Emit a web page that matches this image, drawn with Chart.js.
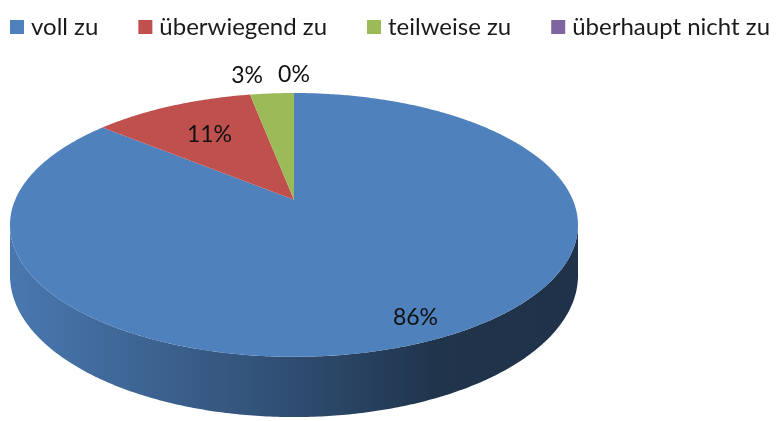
<!DOCTYPE html>
<html>
<head>
<meta charset="utf-8">
<script src="https://cdn.jsdelivr.net/npm/chart.js@4.4.1/dist/chart.umd.min.js"></script>
<style>
    html, body { margin: 0; padding: 0; background: #fff; }
</style>
</head>
<body>
<canvas id="answersChart" width="780" height="421"></canvas>
<script>
// Antworten, Anteil in Prozent
const categories = ['voll zu', 'überwiegend zu', 'teilweise zu', 'überhaupt nicht zu'];
const shares = [86, 11, 3, 0];
const sliceColors = ['#4F81BD', '#C0504D', '#9BBB59', '#8064A2'];

// look of the 3d pie
const perspective = 0.19;   // front edge nearer than back edge
const tilt = 0.456;         // squash of the top face
const depth = 0.175;        // wall height, part of radius
const insideLabelReach = [0.87, 0.66, 1, 1];
const labelFont = '23px Lato';
const legendFont = '24px Lato';

function shade(hex, f) {
    const n = parseInt(hex.slice(1), 16);
    const r = Math.round(((n >> 16) & 255) * f);
    const g = Math.round(((n >> 8) & 255) * f);
    const b = Math.round((n & 255) * f);
    return 'rgb(' + r + ',' + g + ',' + b + ')';
}

const pie3d = {
    id: 'pie3d',
    beforeDatasetsDraw(chart) {
        const ctx = chart.ctx;
        const area = chart.chartArea;
        const meta = chart.getDatasetMeta(0);
        const k = perspective;
        const R = area.width / 2 * Math.sqrt(1 - k * k);
        const cx = (area.left + area.right) / 2;
        const cy = area.top + R * tilt / (1 + k);
        const H = R * depth;
        const step = 0.01;

        function proj(a, f, down) {
            const s = Math.sin(a), c = Math.cos(a);
            const d = 1 - k * f * s;
            return [cx + f * R * c / d, cy + (f * R * tilt * s + (down ? H : 0)) / d];
        }

        // front wall, only the part turned to us
        const e1 = Math.asin(k);
        const e2 = Math.PI - e1;
        meta.data.forEach((arc, i) => {
            const a0 = Math.max(arc.startAngle, e1);
            const a1 = Math.min(arc.endAngle, e2);
            if (a1 <= a0) return;
            const col = arc.options.backgroundColor;
            const grad = ctx.createLinearGradient(area.left, 0, area.right, 0);
            grad.addColorStop(0, shade(col, 0.93));
            grad.addColorStop(0.5, shade(col, 0.6));
            grad.addColorStop(0.75, shade(col, 0.4));
            grad.addColorStop(1, shade(col, 0.39));
            ctx.beginPath();
            let p = proj(a0, 1, false);
            ctx.moveTo(p[0], p[1]);
            for (let a = a0; a < a1; a += step) {
                p = proj(a, 1, false);
                ctx.lineTo(p[0], p[1]);
            }
            p = proj(a1, 1, false);
            ctx.lineTo(p[0], p[1]);
            for (let a = a1; a > a0; a -= step) {
                p = proj(a, 1, true);
                ctx.lineTo(p[0], p[1]);
            }
            p = proj(a0, 1, true);
            ctx.lineTo(p[0], p[1]);
            ctx.closePath();
            ctx.fillStyle = grad;
            ctx.fill();
        });

        // top face
        meta.data.forEach((arc) => {
            if (arc.endAngle - arc.startAngle <= 0) return;
            ctx.beginPath();
            ctx.moveTo(cx, cy);
            let p;
            for (let a = arc.startAngle; a < arc.endAngle; a += step) {
                p = proj(a, 1, false);
                ctx.lineTo(p[0], p[1]);
            }
            p = proj(arc.endAngle, 1, false);
            ctx.lineTo(p[0], p[1]);
            ctx.closePath();
            ctx.fillStyle = arc.options.backgroundColor;
            ctx.fill();
        });

        // percent labels
        const total = shares.reduce((s, v) => s + v, 0);
        ctx.font = labelFont;
        ctx.fillStyle = '#111';
        ctx.textBaseline = 'middle';
        meta.data.forEach((arc, i) => {
            const pct = Math.round(shares[i] / total * 100);
            const mid = (arc.startAngle + arc.endAngle) / 2;
            const text = pct + '%';
            if (pct >= 5) {
                const p = proj(mid, insideLabelReach[i], false);
                ctx.textAlign = 'center';
                ctx.fillText(text, p[0], p[1]);
            } else {
                const p = proj(mid, 1, false);
                const c = Math.cos(mid);
                let x = p[0];
                if (c < -0.05) {
                    ctx.textAlign = 'right';
                    x -= 9;
                } else if (c > 0.05) {
                    ctx.textAlign = 'left';
                    x += 9;
                } else {
                    ctx.textAlign = 'center';
                }
                ctx.fillText(text, x, p[1] - 18);
            }
        });
        return false;
    }
};

// legend in one row like in excel
const legendRow = {
    id: 'legendRow',
    afterDraw(chart) {
        const ctx = chart.ctx;
        const box = 14, gap = 7, spacing = 40, midY = 27;
        ctx.save();
        ctx.font = legendFont;
        const widths = categories.map(t => ctx.measureText(t).width);
        let total = spacing * (categories.length - 1);
        widths.forEach(w => total += box + gap + w);
        let x = (chart.width - total) / 2;
        ctx.textBaseline = 'middle';
        ctx.textAlign = 'left';
        categories.forEach((t, i) => {
            ctx.fillStyle = sliceColors[i];
            ctx.fillRect(x, midY - box / 2, box, box);
            ctx.fillStyle = '#1a1a1a';
            ctx.fillText(t, x + box + gap, midY);
            x += box + gap + widths[i] + spacing;
        });
        ctx.restore();
    }
};

new Chart(document.getElementById('answersChart'), {
    type: 'pie',
    data: {
        labels: categories,
        datasets: [{
            data: shares,
            backgroundColor: sliceColors,
            borderWidth: 0
        }]
    },
    options: {
        responsive: false,
        animation: false,
        events: [],
        layout: {
            padding: { top: 93, left: 10, right: 202, bottom: 2 }
        },
        plugins: {
            legend: { display: false },
            tooltip: { enabled: false }
        }
    },
    plugins: [pie3d, legendRow]
});
</script>
</body>
</html>
